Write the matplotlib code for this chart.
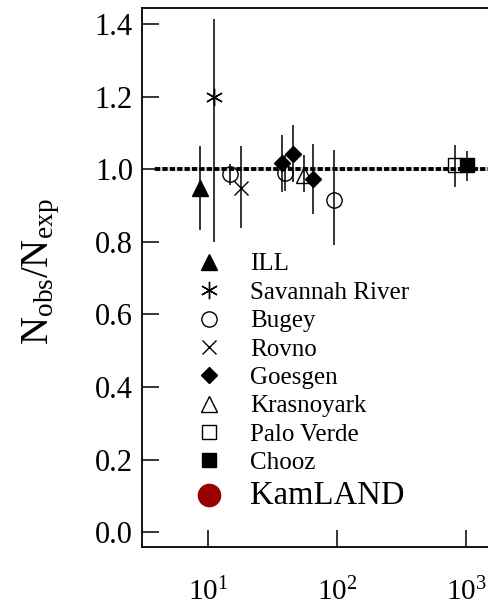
import matplotlib as mpl
mpl.use("Agg")
import matplotlib.pyplot as plt
from matplotlib.lines import Line2D
from matplotlib.ticker import FixedLocator, FormatStrFormatter, NullLocator

mpl.rcParams.update({
    "font.family": "Liberation Serif",
    "mathtext.fontset": "custom",
    "mathtext.rm": "Liberation Serif",
    "mathtext.it": "Liberation Serif:italic",
    "mathtext.default": "regular",
})

# reactor experiments: baseline (m), N_obs/N_exp and error bar (down, up)
experiments = ["ILL", "Savannah River", "Bugey", "Rovno", "Goesgen",
               "Krasnoyark", "Palo Verde", "Chooz"]
distance = {
    "ILL": [8.7],
    "Savannah River": [11.1],
    "Bugey": [14.8, 39.5, 94.8],
    "Rovno": [18.0],
    "Goesgen": [37.5, 45.6, 65.2],
    "Krasnoyark": [55.5],
    "Palo Verde": [822.0],
    "Chooz": [1019.0],
}
ratio = {
    "ILL": [0.948],
    "Savannah River": [1.198],
    "Bugey": [0.986, 0.989, 0.915],
    "Rovno": [0.948],
    "Goesgen": [1.017, 1.041, 0.972],
    "Krasnoyark": [0.983],
    "Palo Verde": [1.011],
    "Chooz": [1.011],
}
err_lo = {
    "ILL": [0.116],
    "Savannah River": [0.40],
    "Bugey": [0.030, 0.050, 0.124],
    "Rovno": [0.110],
    "Goesgen": [0.080, 0.077, 0.096],
    "Krasnoyark": [0.047],
    "Palo Verde": [0.060],
    "Chooz": [0.044],
}
err_hi = {
    "ILL": [0.116],
    "Savannah River": [0.215],
    "Bugey": [0.028, 0.050, 0.138],
    "Rovno": [0.116],
    "Goesgen": [0.077, 0.080, 0.096],
    "Krasnoyark": [0.055],
    "Palo Verde": [0.055],
    "Chooz": [0.039],
}
no_oscillation = 1.0

# marker, size, filled
style = {
    "ILL": ("^", 11, True),
    "Savannah River": ((6, 2, 0), 12.5, False),
    "Bugey": ("o", 11, False),
    "Rovno": ("x", 10.5, False),
    "Goesgen": ("D", 7.8, True),
    "Krasnoyark": ("^", 11, False),
    "Palo Verde": ("s", 10.5, False),
    "Chooz": ("s", 10.5, True),
}

fig = plt.figure(figsize=(4.88, 6.07), dpi=100)
ax = fig.add_axes([142 / 488, 60 / 607, 346 / 488, 539 / 607])

# expected ratio without oscillation
ax.axhline(no_oscillation, xmin=0.038, color="#d9e6c8", lw=2.8, zorder=1)
ax.axhline(no_oscillation, xmin=0.038, color="black", lw=2.8,
           ls=(0, (1.35, 0.55)), zorder=2)

handles = []
for name in experiments:
    marker, ms, filled = style[name]
    kw = dict(marker=marker, ms=ms, color="black", mew=1.0,
              mfc="black" if filled else "none")
    ax.errorbar(distance[name], ratio[name],
                yerr=[err_lo[name], err_hi[name]],
                fmt="none", ecolor="black", elinewidth=1.1, zorder=3)
    ax.plot(distance[name], ratio[name], ls="none", zorder=4, **kw)
    handles.append(Line2D([], [], ls="none", label=name, **kw))

handles.append(Line2D([], [], ls="none", marker="o", ms=16, color="#990000",
                      label="KamLAND"))

leg = ax.legend(handles=handles, loc="upper left",
                bbox_to_anchor=(196.5 / 488, 1 - 253 / 607),
                bbox_transform=fig.transFigure, frameon=False,
                fontsize=18, handlelength=1.0, handletextpad=1.14,
                labelspacing=0.235, borderpad=0, borderaxespad=0)
leg.get_texts()[-1].set_fontsize(23.5)

ax.set_xscale("log")
ax.set_xlim(3.08, 1481)
ax.set_ylim(-0.041, 1.444)
ax.xaxis.set_major_locator(FixedLocator([10, 100, 1000]))
ax.xaxis.set_minor_locator(NullLocator())
ax.yaxis.set_major_locator(FixedLocator([0, 0.2, 0.4, 0.6, 0.8, 1.0, 1.2, 1.4]))
ax.yaxis.set_major_formatter(FormatStrFormatter("%.1f"))

ax.tick_params(axis="both", direction="in", length=12, width=1.1)
ax.tick_params(axis="y", labelsize=22, pad=6.5)
ax.tick_params(axis="x", labelsize=21, pad=22)

ax.spines["right"].set_visible(False)
for side in ("left", "bottom", "top"):
    ax.spines[side].set_linewidth(1.3)

ax.set_ylabel(r"N$_{\mathrm{obs}}$/N$_{\mathrm{exp}}$", fontsize=28)
ax.yaxis.label.set_va("center")
ax.yaxis.set_label_coords(-0.29, 0.51)

fig.savefig("out.png", dpi=100)
